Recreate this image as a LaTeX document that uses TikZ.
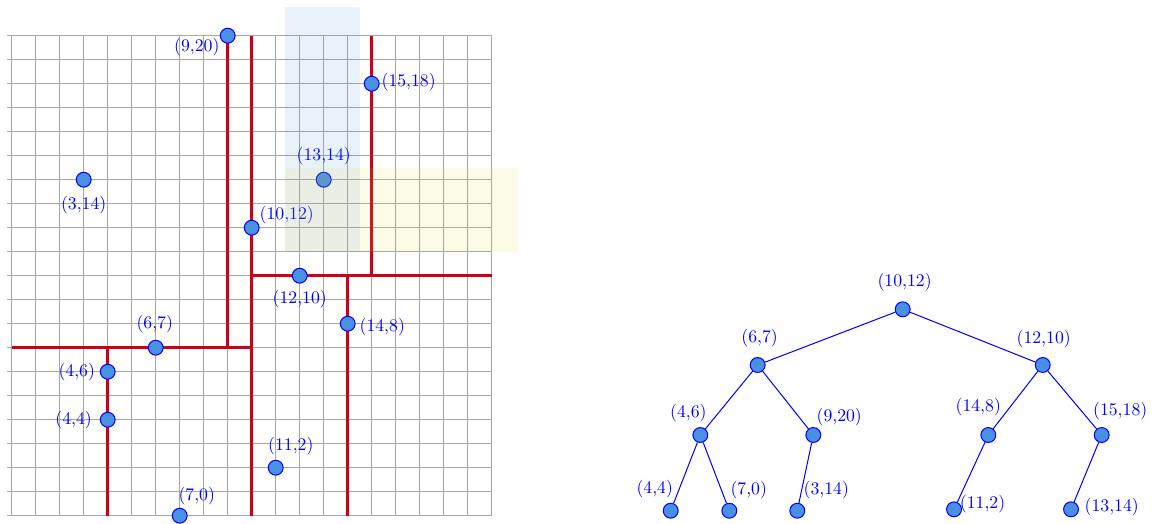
\documentclass[tikz,border=0pt]{standalone}
\usetikzlibrary{positioning}
\definecolor{ptfill}{RGB}{74,144,226}
\definecolor{cutred}{RGB}{204,0,26}
\definecolor{qyellow}{RGB}{230,215,20}
\tikzstyle{pt}=[circle, draw=blue, fill=ptfill, line width=0.6pt,
minimum size=3.1mm, inner sep=0pt]
\tikzstyle{lbl}=[text=blue, inner sep=0pt, font=\fontsize{10.5}{12}\selectfont]
\tikzstyle{cut}=[cutred, line width=1.9pt]
\tikzstyle{edge}=[blue, line width=0.6pt]

\begin{document}
\begin{tikzpicture}
    \useasboundingbox (0,0) rectangle (24.104,10.896);

    % left: the plane and its cuts
    \begin{scope}[shift={(0.244,0.152)}, x=0.5cm, y=0.5cm]
        \draw[gray!70, line width=0.5pt, step=0.5cm] (-0.2,0) grid (20,20);

        \draw[cut] (10,0) -- (10,20);
        \draw[cut] (0,7) -- (10,7);
        \draw[cut] (4,0) -- (4,7);
        \draw[cut] (9,7) -- (9,20);
        \draw[cut] (10,10) -- (20,10);
        \draw[cut] (14,0) -- (14,10);
        \draw[cut] (15,10) -- (15,20);

        \node[pt] (p10-12) at (10,12) {};
        \node[pt] (p6-7) at (6,7) {};
        \node[pt] (p12-10) at (12,10) {};
        \node[pt] (p4-6) at (4,6) {};
        \node[pt] (p9-20) at (9,20) {};
        \node[pt] (p14-8) at (14,8) {};
        \node[pt] (p15-18) at (15,18) {};
        \node[pt] (p4-4) at (4,4) {};
        \node[pt] (p7-0) at (7,0) {};
        \node[pt] (p3-14) at (3,14) {};
        \node[pt] (p11-2) at (11,2) {};
        \node[pt] (p13-14) at (13,14) {};

        \node[lbl] (l10-12) at (11.46,12.54) {(10,12)};
        \node[lbl] (l6-7) at (5.96,8.0) {(6,7)};
        \node[lbl] (l12-10) at (12,9.03) {(12,10)};
        \node[lbl] (l4-6) at (2.71,6.0) {(4,6)};
        \node[lbl] (l9-20) at (7.71,19.53) {(9,20)};
        \node[lbl] (l14-8) at (15.44,7.88) {(14,8)};
        \node[lbl] (l15-18) at (16.54,18.06) {(15,18)};
        \node[lbl] (l4-4) at (2.58,4.0) {(4,4)};
        \node[lbl] (l7-0) at (7.71,0.81) {(7,0)};
        \node[lbl] (l3-14) at (3,12.96) {(3,14)};
        \node[lbl] (l11-2) at (11.63,2.9) {(11,2)};
        \node[lbl] (l13-14) at (13,15.0) {(13,14)};

        % query strips
        \fill[ptfill, opacity=0.12] (11.4,11) rectangle (14.5,21.2);
        \fill[qyellow, opacity=0.1] (11.4,11) rectangle (21.1,14.5);
    \end{scope}

    % right: the tree
    \node[pt] (t10-12) at (18.806,4.452) {};
    \node[pt] (t6-7) at (15.785,3.292) {};
    \node[pt] (t12-10) at (21.723,3.292) {};
    \node[pt] (t4-6) at (14.590,1.833) {};
    \node[pt] (t9-20) at (16.944,1.833) {};
    \node[pt] (t14-8) at (20.590,1.833) {};
    \node[pt] (t15-18) at (22.952,1.833) {};
    \node[pt] (t4-4) at (13.973,0.256) {};
    \node[pt] (t7-0) at (15.194,0.256) {};
    \node[pt] (t3-14) at (16.610,0.256) {};
    \node[pt] (t11-2) at (19.875,0.285) {};
    \node[pt] (t13-14) at (22.313,0.285) {};

    \node[lbl] (u10-12) at (18.846,5.027) {(10,12)};
    \node[lbl] (u6-7) at (15.825,3.848) {(6,7)};
    \node[lbl] (u12-10) at (21.743,3.834) {(12,10)};
    \node[lbl] (u4-6) at (14.340,2.285) {(4,6)};
    \node[lbl] (u9-20) at (17.484,2.214) {(9,20)};
    \node[lbl] (u14-8) at (20.380,2.423) {(14,8)};
    \node[lbl] (u15-18) at (23.337,2.339) {(15,18)};
    \node[lbl] (u4-4) at (13.640,0.700) {(4,4)};
    \node[lbl] (u7-0) at (15.598,0.687) {(7,0)};
    \node[lbl] (u3-14) at (17.214,0.687) {(3,14)};
    \node[lbl] (u11-2) at (20.469,0.395) {(11,2)};
    \node[lbl] (u13-14) at (23.161,0.327) {(13,14)};

    \draw[edge] (t10-12) -- (t6-7);
    \draw[edge] (t10-12) -- (t12-10);
    \draw[edge] (t6-7) -- (t4-6);
    \draw[edge] (t6-7) -- (t9-20);
    \draw[edge] (t4-6) -- (t4-4);
    \draw[edge] (t4-6) -- (t7-0);
    \draw[edge] (t9-20) -- (t3-14);
    \draw[edge] (t12-10) -- (t14-8);
    \draw[edge] (t12-10) -- (t15-18);
    \draw[edge] (t14-8) -- (t11-2);
    \draw[edge] (t15-18) -- (t13-14);
\end{tikzpicture}
\end{document}
